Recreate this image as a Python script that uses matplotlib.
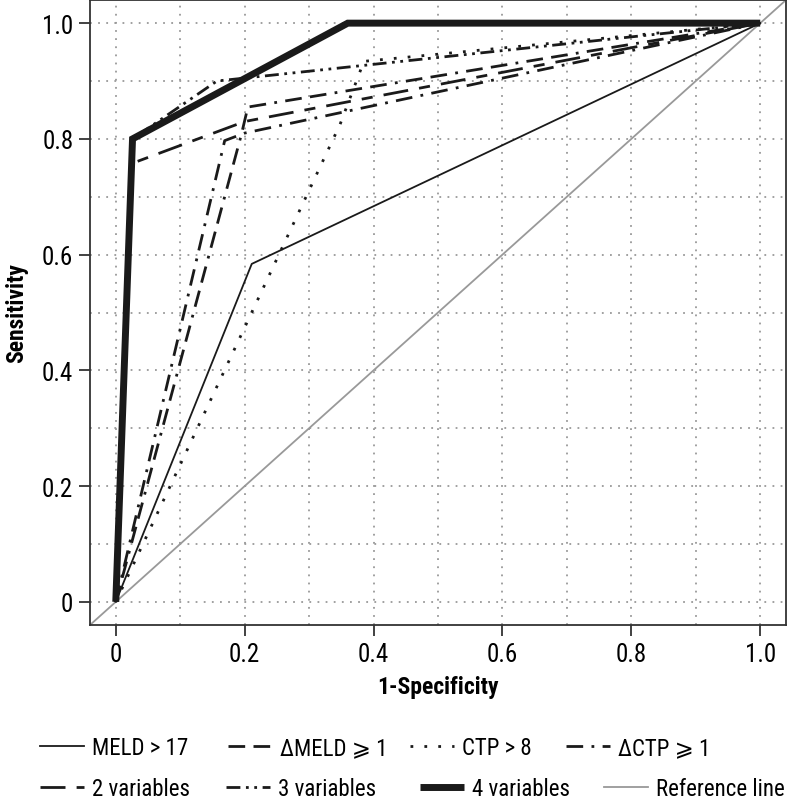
import matplotlib
matplotlib.use("Agg")
import matplotlib.pyplot as plt
from matplotlib import font_manager

# pick a condensed face if one is installed
_fams = {}
for f in font_manager.fontManager.ttflist:
    _fams.setdefault(f.name, set()).add(str(f.stretch))
_family = 'DejaVu Sans'
_stretch = 'normal'
for cand in ['Liberation Sans Narrow', 'DejaVu Sans Condensed', 'Roboto Condensed', 'Open Sans Condensed']:
    if cand in _fams:
        _family = cand
        break
else:
    for cand in ['DejaVu Sans', 'Open Sans', 'Roboto', 'Noto Sans']:
        st = _fams.get(cand, set())
        if 'condensed' in st or 'semi-condensed' in st:
            _family = cand
            _stretch = 'condensed' if 'condensed' in st else 'semi-condensed'
            break

plt.rcParams['font.family'] = [_family, 'DejaVu Sans']
plt.rcParams['font.stretch'] = _stretch

# ROC data (1-Specificity, Sensitivity)
meld_x = [0, 0.211, 1.0]
meld_y = [0, 0.584, 1.0]
dmeld_x = [0, 0.195, 0.205, 1.0]
dmeld_y = [0, 0.808, 0.855, 1.0]
ctp_x = [0, 0.348, 0.385, 1.0]
ctp_y = [0, 0.825, 0.934, 1.0]
dctp_x = [0, 0.169, 0.20, 1.0]
dctp_y = [0, 0.797, 0.81, 1.0]
var2_x = [0, 0.026, 0.20, 1.0]
var2_y = [0, 0.758, 0.830, 1.0]
var3_x = [0, 0.026, 0.157, 1.0]
var3_y = [0, 0.80, 0.90, 1.0]
var4_x = [0, 0.026, 0.36, 1.0]
var4_y = [0, 0.80, 1.0, 1.0]
ref_xy = [-0.04, 1.04]

labels = ["MELD > 17", "\u0394MELD \u2a7e 1", "CTP > 8", "\u0394CTP \u2a7e 1",
          "2 variables", "3 variables", "4 variables", "Reference line"]
xticks = [0, 0.2, 0.4, 0.6, 0.8, 1.0]
xticklabels = ["0", "0.2", "0.4", "0.6", "0.8", "1.0"]

fig = plt.figure(figsize=(7.87, 8.03), dpi=100)
ax = fig.add_axes([90/787, 1 - 626/803, 696/787, 625/803])

ax.set_xlim(-0.04, 1.04)
ax.set_ylim(-0.04, 1.04)

# grid
grid_vals = [i / 10 for i in range(11)]
for g in grid_vals:
    ax.axvline(g, color='#999999', lw=1.3, ls=(0, (1, 3.5)), zorder=0)
    ax.axhline(g, color='#999999', lw=1.3, ls=(0, (1, 3.5)), zorder=0)

k = '#1a1a1a'
h_ref, = ax.plot(ref_xy, ref_xy, color='#999999', lw=1.3, label=labels[7], zorder=1)
h_meld, = ax.plot(meld_x, meld_y, color=k, lw=1.3, label=labels[0], zorder=3)
h_dmeld, = ax.plot(dmeld_x, dmeld_y, color=k, lw=2.0, ls=(0, (6, 3, 6, 3, 1, 3)), label=labels[1], zorder=3)
h_ctp, = ax.plot(ctp_x, ctp_y, color=k, lw=2.0, ls=(0, (1, 4)), label=labels[2], zorder=3)
h_dctp, = ax.plot(dctp_x, dctp_y, color=k, lw=2.0, ls=(0, (6, 3, 1, 3)), label=labels[3], zorder=3)
h_v2, = ax.plot(var2_x, var2_y, color=k, lw=2.0, ls=(0, (9, 4, 4, 4)), label=labels[4], zorder=3)
h_v3, = ax.plot(var3_x, var3_y, color=k, lw=2.0, ls=(0, (5, 2, 1, 2, 1, 2)), label=labels[5], zorder=3)
h_v4, = ax.plot(var4_x, var4_y, color=k, lw=5.0, label=labels[6], zorder=4,
                solid_joinstyle='miter', solid_capstyle='butt')

ax.set_xticks(xticks)
ax.set_xticklabels(xticklabels)
ax.set_yticks(xticks)
ax.set_yticklabels(xticklabels)
ax.tick_params(axis='both', labelsize=18, length=8, width=1.3, color='#333333', direction='out', pad=4)
ax.tick_params(top=False, right=False)
for s in ax.spines.values():
    s.set_color('#333333')
    s.set_linewidth(1.3)

ax.set_xlabel("1-Specificity", fontsize=17, fontweight='bold')
ax.set_ylabel("Sensitivity", fontsize=17, fontweight='bold')
ax.yaxis.set_label_coords(-62/696, 0.5)
ax.xaxis.set_label_coords(0.5, -50/625)

# legend entries placed individually (two rows)
handles = [h_meld, h_dmeld, h_ctp, h_dctp, h_v2, h_v3, h_v4, h_ref]
xs = [40, 228, 410, 566, 40, 226, 420, 604]
ys = [749, 749, 749, 749, 790, 790, 790, 790]
for h, lab, x, y in zip(handles, labels, xs, ys):
    fig.legend(handles=[h], labels=[lab], loc='center left',
               bbox_to_anchor=(x / 787, 1 - y / 803), bbox_transform=fig.transFigure,
               frameon=False, borderpad=0, borderaxespad=0, handlelength=1.9,
               handletextpad=0.35, fontsize=16.5)

fig.savefig("out.png", dpi=100)
